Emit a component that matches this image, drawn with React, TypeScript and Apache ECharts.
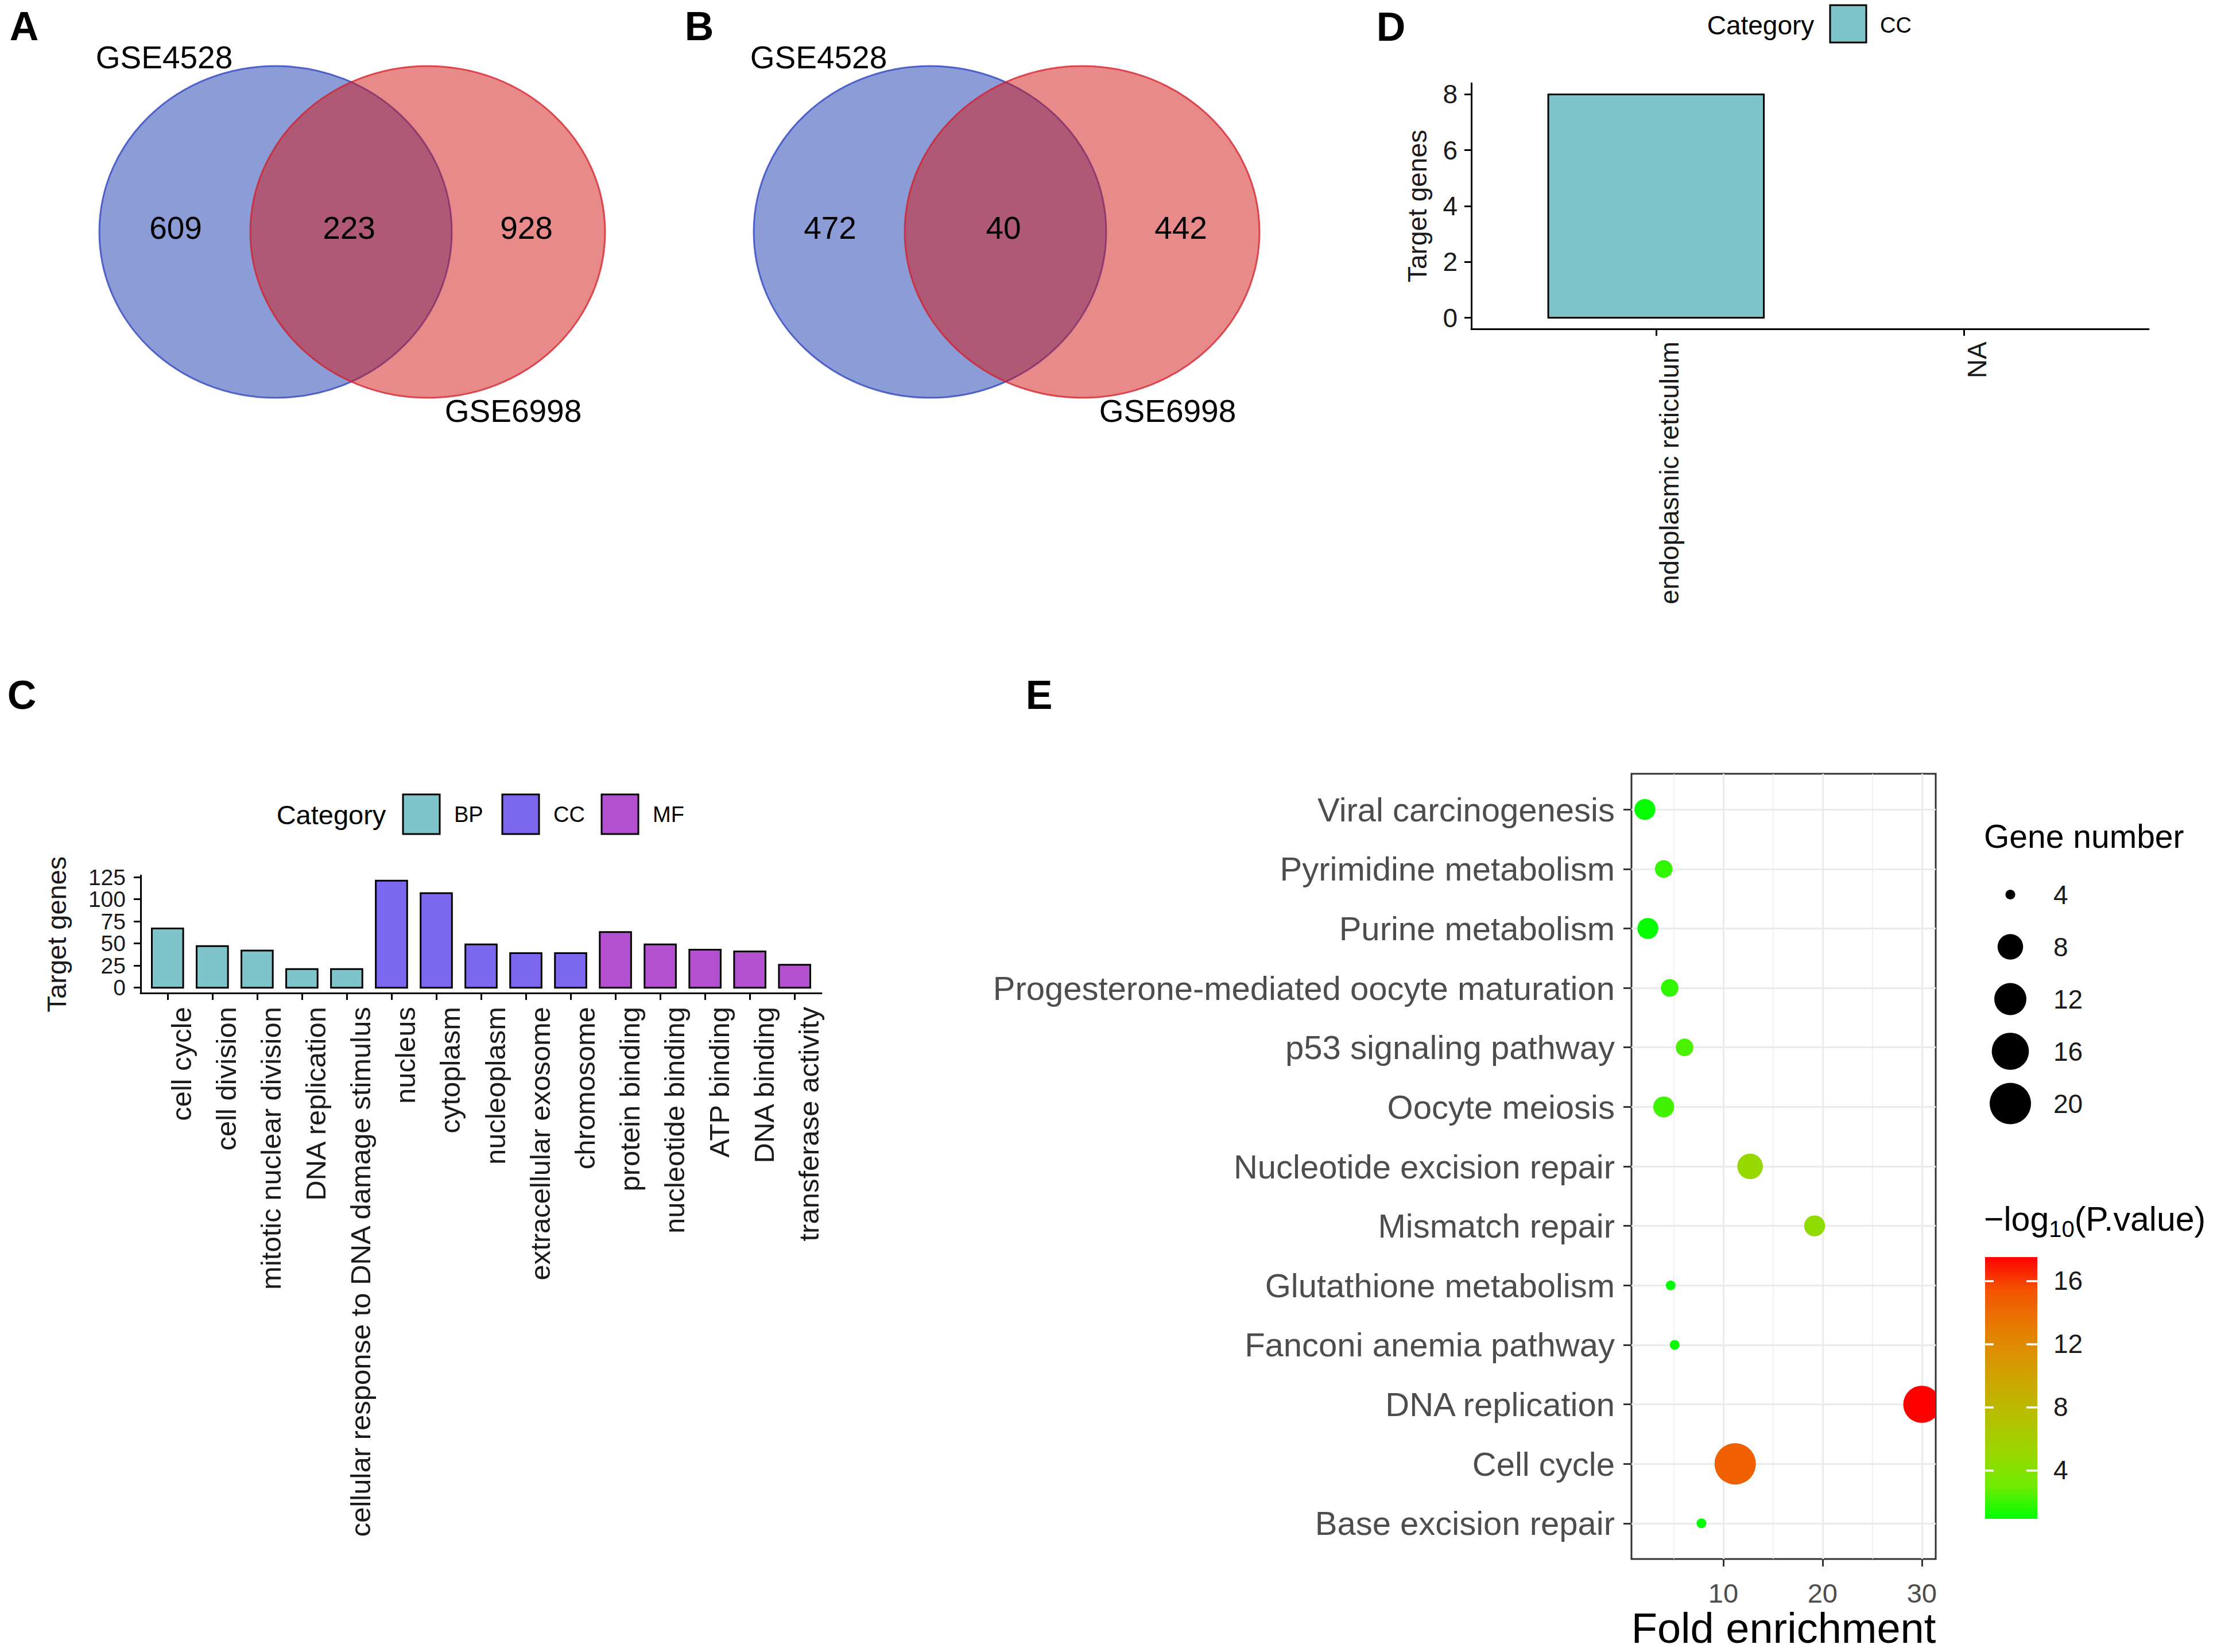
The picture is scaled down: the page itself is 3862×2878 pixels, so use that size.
import React, { useEffect, useRef } from 'react';
import * as echarts from 'echarts';

// ---------------- DATA ----------------
const vennSets = ['GSE4528', 'GSE6998'];
const vennA = [609, 223, 928];
const vennB = [472, 40, 442];

const goCats = [
  'cell cycle', 'cell division', 'mitotic nuclear division', 'DNA replication',
  'cellular response to DNA damage stimulus', 'nucleus', 'cytoplasm', 'nucleoplasm',
  'extracellular exosome', 'chromosome', 'protein binding', 'nucleotide binding',
  'ATP binding', 'DNA binding', 'transferase activity',
];
const goVals = [67, 47, 42, 21, 21, 121, 107, 49, 39, 39, 63, 49, 43, 41, 26];
const goGroups = ['BP', 'BP', 'BP', 'BP', 'BP', 'CC', 'CC', 'CC', 'CC', 'CC', 'MF', 'MF', 'MF', 'MF', 'MF'];
const goGroupNames = ['BP', 'CC', 'MF'];
const goGroupColors = ['#7EC4CA', '#7B68EE', '#B44FD0'];
const goTicks = [0, 25, 50, 75, 100, 125];

const dCats = ['endoplasmic reticulum', 'NA'];
const dVals: (number | null)[] = [8, null];
const dGroupNames = ['CC'];
const dTicks = [0, 2, 4, 6, 8];

const keggTerms = [
  'Viral carcinogenesis', 'Pyrimidine metabolism', 'Purine metabolism',
  'Progesterone-mediated oocyte maturation', 'p53 signaling pathway', 'Oocyte meiosis',
  'Nucleotide excision repair', 'Mismatch repair', 'Glutathione metabolism',
  'Fanconi anemia pathway', 'DNA replication', 'Cell cycle', 'Base excision repair',
];
const keggFold = [2.1, 4.0, 2.4, 4.6, 6.1, 4.0, 12.7, 19.2, 4.7, 5.1, 30.0, 11.2, 7.8];
const keggGenes = [6, 5, 6, 5, 5, 6, 8, 6, 4, 4, 16, 20, 4];
const keggLogP = [1.0, 1.8, 1.0, 1.8, 2.3, 2.1, 5.0, 4.6, 0.92, 1.0, 17.5, 14.7, 0.95];
const foldTicks = [10, 20, 30];
const foldMinor = [5, 15, 25];
const sizeBreaks = [4, 8, 12, 16, 20];
const colorTicks = [4, 8, 12, 16];

// ---------------- STYLE ----------------
const FONT = "'Liberation Sans', Arial, Helvetica, sans-serif";
const GRAD = ['#00FF00', '#70EB00', '#98D700', '#B3C200', '#C9AB00', '#DA9300', '#E87600', '#F45300', '#FF0000'];
const BAR_W = 0.7;

const gMin = Math.min(...keggGenes);
const gMax = Math.max(...keggGenes);
const pMin = Math.min(...keggLogP);
const pMax = Math.max(...keggLogP);
function dotSize(n: number) {
  const t = Math.sqrt((n - gMin) / (gMax - gMin));
  return 6 + 11 * (1 + 5 * t);
}

function txt(text: string, x: number, y: number, fontSize: number, align = 'center', extra: any = {}) {
  return {
    type: 'text', x, y, silent: true,
    style: {
      text, fontSize, fontFamily: FONT, fill: extra.fill || '#000',
      fontWeight: extra.fontWeight || 'normal',
      align, verticalAlign: 'middle', textAlign: align, textVerticalAlign: 'middle',
    },
  };
}

function venn(vals: number[], dx: number) {
  const els: any[] = [];
  els.push({
    type: 'ellipse', silent: true, shape: { cx: 480 + dx, cy: 404, rx: 307, ry: 289 },
    style: { fill: 'rgba(26,58,175,0.5)', stroke: 'rgba(40,62,190,0.75)', lineWidth: 3 },
  });
  els.push({
    type: 'ellipse', silent: true, shape: { cx: 745 + dx, cy: 404, rx: 309, ry: 289 },
    style: { fill: 'rgba(210,22,22,0.5)', stroke: 'rgba(212,30,40,0.75)', lineWidth: 3 },
  });
  const nx = [306, 608, 917];
  vals.forEach((v, i) => els.push(txt(String(v), nx[i] + dx, 397, 55)));
  els.push(txt(vennSets[0], 286 + dx, 100, 55));
  els.push(txt(vennSets[1], 894 + dx, 716, 55));
  return els;
}

function barRender(colors: string[]) {
  return (params: any, api: any) => {
    const v = api.value(1);
    if (v == null || isNaN(v)) return null;
    const x = api.value(0);
    const p0 = api.coord([x - BAR_W / 2, v]);
    const p1 = api.coord([x + BAR_W / 2, 0]);
    return {
      type: 'rect',
      shape: { x: p0[0], y: p0[1], width: p1[0] - p0[0], height: p1[1] - p0[1] },
      style: { fill: colors[api.value(2)], stroke: '#000', lineWidth: 3 },
    };
  };
}

function buildOption() {
  const graphics: any[] = [];
  // panel letters
  [['A', 42, 46], ['B', 1218, 46], ['D', 2423, 47], ['C', 38, 1211], ['E', 1810, 1211]].forEach(([t, x, y]) =>
    graphics.push(txt(t as string, x as number, y as number, 70, 'center', { fontWeight: 'bold' })));
  graphics.push(...venn(vennA, 0));
  graphics.push(...venn(vennB, 1140));

  // legend C
  graphics.push(txt('Category', 577, 1419, 47));
  goGroupNames.forEach((g, i) => {
    const kx = 702 + i * 173;
    graphics.push({ type: 'rect', silent: true, shape: { x: kx, y: 1384, width: 64, height: 69 },
      style: { fill: goGroupColors[i], stroke: '#000', lineWidth: 3 } });
    graphics.push(txt(g, kx + 89, 1419, 38, 'left'));
  });
  // legend D
  graphics.push(txt('Category', 3067, 44, 46));
  dGroupNames.forEach((g, i) => {
    graphics.push({ type: 'rect', silent: true, shape: { x: 3188, y: 9, width: 63, height: 65 },
      style: { fill: goGroupColors[i], stroke: '#000', lineWidth: 3 } });
    graphics.push(txt(g, 3275, 44, 38, 'left'));
  });
  // legend E titles
  graphics.push(txt('Gene number', 3456, 1457, 57, 'left'));
  graphics.push({
    type: 'text', x: 3456, y: 2124, silent: true,
    style: {
      text: '{m|\u2212log}{s|10}{m|(P.value)}', fontFamily: FONT,
      align: 'left', verticalAlign: 'middle', textAlign: 'left', textVerticalAlign: 'middle',
      rich: {
        m: { fontSize: 59, fontFamily: FONT, fill: '#000' },
        s: { fontSize: 40, fontFamily: FONT, fill: '#000', padding: [34, 0, 0, 0] },
      },
    },
  });

  const axisBlack = { show: true, lineStyle: { color: '#000', width: 3 } };
  const tickBlack = { length: 12, lineStyle: { color: '#000', width: 3 } };
  const goTicksA = goTicks.filter((_, i) => i % 2 === 0);
  const goTicksB = goTicks.filter((_, i) => i % 2 === 1);
  const gridC = { left: 245, top: 1525, width: 1186, height: 205 };
  const cYLabel = { fontSize: 39, color: '#1a1a1a', margin: 26, fontFamily: FONT, showMinLabel: true, showMaxLabel: true, hideOverlap: false };

  return {
    animation: false,
    backgroundColor: '#fff',
    textStyle: { fontFamily: FONT },
    graphic: graphics,
    grid: [
      { ...gridC },
      { left: 2563, top: 145, width: 1180, height: 428 },
      { left: 2842, top: 1348, width: 530, height: 1368, show: true, borderColor: '#333', borderWidth: 3, backgroundColor: 'transparent' },
      { left: 3470, top: 1513, width: 64, height: 455 },
      {
        left: 3458, top: 2190, width: 91, height: 456, show: true, borderWidth: 0,
        backgroundColor: new echarts.graphic.LinearGradient(0, 0, 0, 1,
          GRAD.slice().reverse().map((c, i) => ({ offset: i / (GRAD.length - 1), color: c }))),
      },
      { ...gridC },
    ],
    xAxis: [
      {
        gridIndex: 0, type: 'value', min: 0.4, max: goCats.length + 0.6,
        axisLine: { ...axisBlack, onZero: false },
        axisTick: { ...tickBlack, customValues: goCats.map((_, i) => i + 1) },
        axisLabel: {
          customValues: goCats.map((_, i) => i + 1), rotate: 90, fontSize: 49, color: '#1a1a1a',
          margin: 24, verticalAlign: 'top', fontFamily: FONT, interval: 0,
          showMinLabel: true, showMaxLabel: true, hideOverlap: false,
          formatter: (v: number) => goCats[Math.round(v) - 1] ?? '',
        },
        splitLine: { show: false },
      },
      {
        gridIndex: 1, type: 'value', min: 0.4, max: dCats.length + 0.6,
        axisLine: { ...axisBlack, onZero: false },
        axisTick: { ...tickBlack, customValues: dCats.map((_, i) => i + 1) },
        axisLabel: {
          customValues: dCats.map((_, i) => i + 1), rotate: 90, fontSize: 46, color: '#1a1a1a',
          margin: 22, verticalAlign: 'top', fontFamily: FONT, interval: 0,
          showMinLabel: true, showMaxLabel: true,
          formatter: (v: number) => dCats[Math.round(v) - 1] ?? '',
        },
        splitLine: { show: false },
      },
      {
        gridIndex: 2, type: 'value', min: 0.75, max: 31.4,
        axisLine: { show: false, onZero: false },
        axisTick: { show: true, length: 13, customValues: foldTicks, lineStyle: { color: '#333', width: 3 } },
        axisLabel: { customValues: foldTicks, fontSize: 47, color: '#4D4D4D', margin: 36, fontFamily: FONT },
        splitLine: { show: false },
        name: 'Fold enrichment', nameLocation: 'middle', nameGap: 83,
        nameTextStyle: { fontSize: 74, color: '#000', fontFamily: FONT },
      },
      { gridIndex: 3, type: 'value', min: -1, max: 1, show: false },
      { gridIndex: 4, type: 'value', min: 0, max: 1, show: false },
      { gridIndex: 5, type: 'value', min: 0.4, max: goCats.length + 0.6, show: false },
    ],
    yAxis: [
      {
        gridIndex: 0, type: 'value', min: -6.05, max: 127.05,
        axisLine: { ...axisBlack, onZero: false },
        axisTick: { ...tickBlack, customValues: goTicks },
        axisLabel: { ...cYLabel, customValues: goTicksA },
        splitLine: { show: false },
        name: 'Target genes', nameLocation: 'middle', nameGap: 123,
        nameTextStyle: { fontSize: 47, color: '#1a1a1a', fontFamily: FONT },
      },
      {
        gridIndex: 1, type: 'value', min: -0.4, max: 8.4,
        axisLine: { ...axisBlack, onZero: false },
        axisTick: { ...tickBlack, customValues: dTicks },
        axisLabel: {
          customValues: dTicks, fontSize: 46, color: '#1a1a1a', margin: 24, fontFamily: FONT,
          showMinLabel: true, showMaxLabel: true,
        },
        splitLine: { show: false },
        name: 'Target genes', nameLocation: 'middle', nameGap: 71,
        nameTextStyle: { fontSize: 46, color: '#1a1a1a', fontFamily: FONT },
      },
      {
        gridIndex: 2, type: 'value', min: 0.4, max: keggTerms.length + 0.6, inverse: true,
        axisLine: { show: false, onZero: false },
        axisTick: { show: true, length: 14, customValues: keggTerms.map((_, i) => i + 1), lineStyle: { color: '#333', width: 3 } },
        axisLabel: {
          customValues: keggTerms.map((_, i) => i + 1), fontSize: 58, color: '#4D4D4D', margin: 29, fontFamily: FONT,
          showMinLabel: true, showMaxLabel: true, interval: 0,
          formatter: (v: number) => keggTerms[Math.round(v) - 1] ?? '',
        },
        splitLine: { show: false },
      },
      {
        gridIndex: 3, type: 'category', data: sizeBreaks.map(String), inverse: true, position: 'right',
        axisLine: { show: false }, axisTick: { show: false },
        axisLabel: { fontSize: 46, color: '#1a1a1a', margin: 43, align: 'left', fontFamily: FONT, interval: 0 },
        splitLine: { show: false },
      },
      {
        gridIndex: 4, type: 'value', min: pMin, max: pMax, position: 'left',
        axisLine: { show: false },
        axisTick: { show: true, inside: true, length: 15, customValues: colorTicks, lineStyle: { color: '#fff', width: 3.5 } },
        axisLabel: { show: false },
        splitLine: { show: false },
      },
      {
        gridIndex: 4, type: 'value', min: pMin, max: pMax, position: 'right',
        axisLine: { show: false },
        axisTick: { show: true, inside: true, length: 19, customValues: colorTicks, lineStyle: { color: '#fff', width: 3.5 } },
        axisLabel: { customValues: colorTicks, fontSize: 46, color: '#1a1a1a', margin: 28, fontFamily: FONT },
        splitLine: { show: false },
      },
      {
        gridIndex: 5, type: 'value', min: -6.05, max: 127.05, position: 'left',
        axisLine: { show: false, onZero: false },
        axisTick: { show: false },
        axisLabel: { ...cYLabel, customValues: goTicksB },
        splitLine: { show: false },
      },
    ],
    visualMap: [
      {
        type: 'continuous', show: false, seriesIndex: 3, dimension: 3,
        min: pMin, max: pMax, inRange: { color: GRAD },
      },
    ],
    series: [
      {
        type: 'custom', xAxisIndex: 0, yAxisIndex: 0,
        data: goVals.map((v, i) => [i + 1, v, goGroupNames.indexOf(goGroups[i])]),
        renderItem: barRender(goGroupColors),
      },
      {
        type: 'custom', xAxisIndex: 1, yAxisIndex: 1,
        data: dVals.map((v, i) => [i + 1, v == null ? NaN : v, 0]),
        renderItem: barRender(goGroupColors),
      },
      {
        type: 'scatter', xAxisIndex: 2, yAxisIndex: 2, z: 1, symbolSize: 0, silent: true,
        data: [[-100, -100]],
        markLine: {
          z: 1, silent: true, symbol: ['none', 'none'], label: { show: false }, animation: false,
          emphasis: { disabled: true },
          lineStyle: { color: '#EBEBEB', type: 'solid', width: 3 },
          data: [
            ...foldMinor.map((v) => ({ xAxis: v, lineStyle: { color: '#EBEBEB', type: 'solid', width: 1.5 } })),
            ...foldTicks.map((v) => ({ xAxis: v, lineStyle: { color: '#EBEBEB', type: 'solid', width: 3 } })),
            ...keggTerms.map((_, i) => ({ yAxis: i + 1, lineStyle: { color: '#EBEBEB', type: 'solid', width: 3 } })),
          ],
        },
      },
      {
        type: 'custom', xAxisIndex: 2, yAxisIndex: 2, z: 10, clip: true,
        data: keggTerms.map((_, i) => [keggFold[i], i + 1, keggGenes[i], keggLogP[i]]),
        renderItem: (params: any, api: any) => {
          const c = api.coord([api.value(0), api.value(1)]);
          return {
            type: 'circle',
            shape: { cx: c[0], cy: c[1], r: dotSize(api.value(2)) / 2 },
            style: { fill: api.visual('color') },
          };
        },
      },
      {
        type: 'scatter', xAxisIndex: 3, yAxisIndex: 3, silent: true,
        data: sizeBreaks.map((_, i) => [0, i]),
        symbolSize: (_v: any, p: any) => dotSize(sizeBreaks[p.dataIndex]),
        itemStyle: { color: '#000', opacity: 1 },
      },
      {
        type: 'scatter', xAxisIndex: 4, yAxisIndex: 4, silent: true, data: [],
      },
      {
        type: 'scatter', xAxisIndex: 5, yAxisIndex: 6, silent: true, data: [],
      },
    ],
  };
}

export default function App() {
  const ref = useRef<HTMLDivElement>(null);
  useEffect(() => {
    document.body.style.margin = '0';
    const chart = echarts.init(ref.current!, null, { renderer: 'svg' });
    chart.setOption(buildOption() as any);
    return () => chart.dispose();
  }, []);
  return <div ref={ref} style={{ width: 3862, height: 2878, background: '#fff' }} />;
}
